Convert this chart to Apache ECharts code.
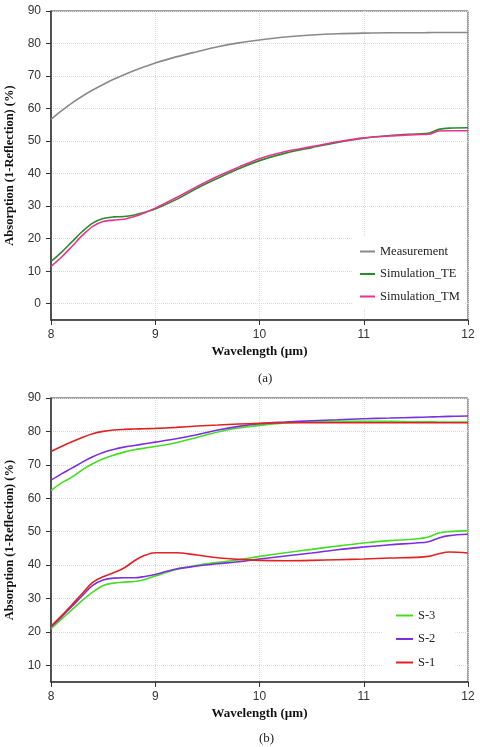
<!DOCTYPE html>
<html>
<head>
<meta charset="utf-8">
<script src="https://cdn.jsdelivr.net/npm/echarts@6/dist/echarts.min.js"></script>
<style>
  html, body { margin: 0; padding: 0; background: #fff; }
  #main { width: 480px; height: 747px; }
</style>
</head>
<body>
<div id="main"></div>
<script>
// 波长 (µm)
var wavelength = [8.0, 8.1, 8.2, 8.3, 8.4, 8.5, 8.6, 8.7, 8.8, 8.9, 9.0, 9.2, 9.4, 9.6, 9.8,
  10.0, 10.25, 10.5, 10.75, 11.0, 11.25, 11.5, 11.62, 11.72, 11.82, 12.0];

// (a) 测量 / 仿真
var measurement = [56.7, 59.3, 61.7, 63.8, 65.7, 67.4, 69.0, 70.4, 71.7, 72.9, 74.0, 75.9, 77.5, 79.0, 80.2,
  81.1, 82.0, 82.6, 83.0, 83.2, 83.3, 83.3, 83.35, 83.4, 83.4, 83.4];
var simulationTE = [13.0, 15.8, 19.0, 22.2, 24.8, 26.2, 26.7, 26.8, 27.3, 28.1, 29.1, 32.0, 35.5, 38.6, 41.5,
  44.0, 46.3, 48.0, 49.6, 50.9, 51.7, 52.2, 52.4, 53.6, 54.0, 54.1];
var simulationTM = [11.5, 14.3, 17.6, 21.0, 23.8, 25.3, 25.7, 26.0, 26.8, 28.0, 29.4, 32.6, 36.0, 39.2, 42.0,
  44.6, 46.8, 48.3, 49.8, 51.0, 51.6, 52.0, 52.1, 53.1, 53.2, 53.2];

// (b) 上组曲线
var s3Upper = [62.3, 64.6, 66.3, 68.5, 70.3, 71.8, 72.9, 73.8, 74.5, 75.0, 75.5, 76.6, 78.2, 79.8, 81.0,
  81.8, 82.5, 82.9, 83.0, 83.0, 83.0, 82.9, 82.9, 82.8, 82.8, 82.8];
var s2Upper = [65.4, 67.3, 69.0, 70.8, 72.4, 73.7, 74.6, 75.3, 75.8, 76.3, 76.8, 77.8, 79.0, 80.4, 81.5,
  82.3, 82.8, 83.2, 83.5, 83.8, 84.0, 84.2, 84.3, 84.4, 84.5, 84.6];
var s1Upper = [74.0, 75.5, 76.9, 78.2, 79.3, 80.0, 80.4, 80.6, 80.7, 80.8, 80.9, 81.2, 81.6, 81.9, 82.2,
  82.4, 82.6, 82.6, 82.6, 82.6, 82.6, 82.6, 82.6, 82.6, 82.6, 82.6];

// (b) 下组曲线
var s3Lower = [21.0, 23.8, 26.6, 29.4, 31.9, 33.9, 34.6, 34.9, 35.1, 35.7, 36.7, 38.7, 39.9, 40.8, 41.6,
  42.6, 43.7, 44.7, 45.7, 46.6, 47.3, 47.8, 48.4, 49.6, 50.0, 50.3];
var s2Lower = [21.5, 24.5, 27.6, 30.8, 33.9, 35.5, 36.1, 36.2, 36.2, 36.6, 37.2, 38.8, 39.7, 40.4, 41.0,
  41.8, 42.7, 43.6, 44.6, 45.4, 46.1, 46.6, 47.0, 48.1, 48.8, 49.2];
var s1Lower = [21.7, 24.8, 28.1, 31.5, 34.8, 36.5, 37.7, 39.1, 41.3, 42.9, 43.7, 43.7, 43.0, 42.2, 41.7,
  41.4, 41.3, 41.4, 41.6, 41.8, 42.1, 42.3, 42.6, 43.4, 43.9, 43.6];

var legendA = ['Measurement', 'Simulation_TE', 'Simulation_TM'];
var legendB = ['S-3', 'S-2', 'S-1'];

(function () {
  var myChart = echarts.init(document.getElementById('main'));

  var sans = 'Liberation Sans, Arial, sans-serif';
  var serif = 'Liberation Serif, Times New Roman, serif';

  function pairs(ys) {
    return wavelength.map(function (x, i) { return [x, ys[i]]; });
  }

  function line(name, ys, color, idx) {
    return {
      name: name,
      type: 'line',
      xAxisIndex: idx,
      yAxisIndex: idx,
      data: pairs(ys),
      smooth: 0.35,
      showSymbol: false,
      lineStyle: { color: color, width: 1.6 },
      itemStyle: { color: color }
    };
  }

  function xAxisCfg(idx) {
    return {
      type: 'value',
      gridIndex: idx,
      min: 8,
      max: 12,
      interval: 1,
      name: 'Wavelength (µm)',
      nameLocation: 'middle',
      nameGap: 25,
      nameTextStyle: { fontFamily: serif, fontWeight: 'bold', fontSize: 13, color: '#111' },
      axisLine: { onZero: false, lineStyle: { color: '#333', width: 1.5 } },
      axisTick: { show: true, inside: false, length: 5, lineStyle: { color: '#333' } },
      axisLabel: { fontFamily: sans, fontSize: 12, color: '#333', margin: 9 },
      splitLine: { show: true, lineStyle: { color: '#d8d8d8', type: 'dotted' } }
    };
  }

  function yAxisCfg(idx, min) {
    return {
      type: 'value',
      gridIndex: idx,
      min: min,
      max: 90,
      splitNumber: 10,
      minInterval: 10,
      maxInterval: 10,
      name: 'Absorption (1-Reflection) (%)',
      nameLocation: 'middle',
      nameGap: 33,
      nameTextStyle: { fontFamily: serif, fontWeight: 'bold', fontSize: 12.5, color: '#111' },
      axisLine: { show: true, onZero: false, lineStyle: { color: '#333', width: 1.5 } },
      axisTick: { show: true, inside: false, length: 5, lineStyle: { color: '#333' } },
      axisLabel: {
        fontFamily: sans, fontSize: 12, color: '#333', margin: 10,
        showMinLabel: false,
        formatter: function (v) { return v % 10 === 0 ? String(v) : ''; }
      },
      splitLine: { show: true, lineStyle: { color: '#d8d8d8', type: 'dotted' } }
    };
  }

  var option = {
    backgroundColor: '#fff',
    animation: false,
    title: [
      { text: '(a)', left: 253, top: 367, textStyle: { fontFamily: serif, fontWeight: 'normal', fontSize: 13, color: '#222' } },
      { text: '(b)', left: 254, top: 727, textStyle: { fontFamily: serif, fontWeight: 'normal', fontSize: 13, color: '#222' } }
    ],
    grid: [
      { left: 51, right: 12, top: 11, height: 309, outerBoundsMode: 'none', show: true, borderColor: '#444', borderWidth: 1 },
      { left: 51, right: 12, top: 398, height: 284, outerBoundsMode: 'none', show: true, borderColor: '#444', borderWidth: 1 }
    ],
    legend: [
      {
        data: legendA,
        orient: 'vertical',
        left: 352,
        top: 237,
        padding: [8, 4, 6, 8],
        itemGap: 9.5,
        itemWidth: 15,
        itemHeight: 2,
        icon: 'rect',
        backgroundColor: '#fff',
        textStyle: { fontFamily: serif, fontSize: 12.5, color: '#222' }
      },
      {
        data: legendB,
        orient: 'vertical',
        left: 383,
        top: 601,
        padding: [8, 20, 6, 13],
        itemGap: 10.5,
        itemWidth: 17,
        itemHeight: 2,
        icon: 'rect',
        backgroundColor: '#fff',
        textStyle: { fontFamily: serif, fontSize: 12.5, color: '#222' }
      }
    ],
    xAxis: [xAxisCfg(0), xAxisCfg(1)],
    yAxis: [yAxisCfg(0, -5), yAxisCfg(1, 5)],
    series: [
      line('Measurement', measurement, '#8a8a8a', 0),
      line('Simulation_TE', simulationTE, '#2b8a2b', 0),
      line('Simulation_TM', simulationTM, '#e8338f', 0),
      line('S-3', s3Upper, '#44dd22', 1),
      line('S-2', s2Upper, '#7b2fe0', 1),
      line('S-1', s1Upper, '#e02222', 1),
      line('S-3', s3Lower, '#44dd22', 1),
      line('S-2', s2Lower, '#7b2fe0', 1),
      line('S-1', s1Lower, '#e02222', 1)
    ]
  };

  myChart.setOption(option);
  window.addEventListener('resize', function () {
    myChart.resize();
  });
})();
</script>
</body>
</html>
